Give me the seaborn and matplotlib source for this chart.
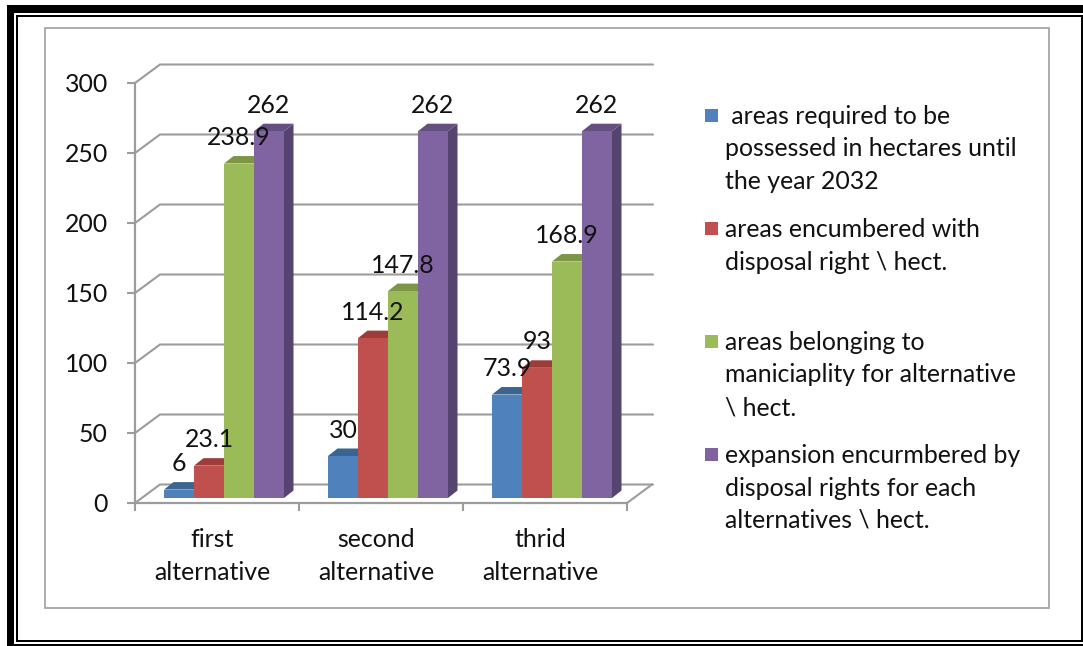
import matplotlib
matplotlib.use("Agg")
import matplotlib.pyplot as plt
import matplotlib.transforms as mtrans
from matplotlib.patches import Polygon, Rectangle
import pandas as pd
import seaborn as sns

# Chart values
categories = ["first\nalternative", "second\nalternative", "thrid\nalternative"]
series_names = [
    " areas required to be\npossessed in hectares until\nthe year 2032",
    "areas encumbered with\ndisposal right \\ hect.",
    "areas belonging to\nmaniciaplity for alternative\n\\ hect.",
    "expansion encurmbered by\ndisposal rights for each\nalternatives \\ hect.",
]
required = [6, 30, 73.9]
encumbered = [23.1, 114.2, 93]
municipality = [238.9, 147.8, 168.9]
expansion = [262, 262, 262]
y_ticks = [0, 50, 100, 150, 200, 250, 300]

front_colors = ["#4F81BD", "#C0504D", "#9BBB59", "#8064A2"]
top_colors = ["#3B6591", "#9C3D3A", "#7C9645", "#64507F"]
side_colors = ["#335A85", "#8A3432", "#6C833B", "#564470"]
grid_color = "#9C9C9C"
text_color = "#111111"

W, H = 1083, 646
sns.set_theme(style="white")
plt.rcParams["font.family"] = ["Lato", "DejaVu Sans"]
FONT = 17.9
SPACING = 1.5

fig = plt.figure(figsize=(W / 100, H / 100), dpi=100, facecolor="white")


def axes_box(left, right, top, bottom):
    """Axes rectangle from pixel edges, measured from the top-left corner."""
    return [left / W, 1 - bottom / H, (right - left) / W, (bottom - top) / H]


def page_rect(left, top, right, bottom, zorder=-5, **kw):
    fig.add_artist(Rectangle((left / W, 1 - bottom / H), (right - left) / W, (bottom - top) / H,
                             transform=fig.transFigure, zorder=zorder, **kw))


# Page borders and chart frame
page_rect(7, 5, 1090, 650, facecolor="black", edgecolor="none")
page_rect(14, 12.5, 1090, 643.5, facecolor="white", edgecolor="none")
page_rect(16, 15, 1082.5, 642, facecolor="black", edgecolor="none")
page_rect(18, 17, 1080.5, 640, facecolor="white", edgecolor="none")
page_rect(44.5, 27.5, 1049, 607.5, facecolor="white", edgecolor="#A6A6A6", linewidth=1.3)

# Axis frame: value axis, category axis and the receding grid
frame = fig.add_axes(axes_box(135, 627, 83, 503), facecolor="none")
frame.set_xlim(-0.5, 2.5)
frame.set_ylim(0, 300)
px_x = 3 / 492
px_y = 300 / 420
depth_x, depth_y = 25 * px_x, 18.5 * px_y
for v in y_ticks:
    frame.plot([-0.5, -0.5 + depth_x, 2.5 + depth_x + 1 * px_x],
               [v, v + depth_y, v + depth_y],
               color=grid_color, lw=1.5, clip_on=False, zorder=1, solid_joinstyle="miter")
frame.plot([2.5, 2.5 + depth_x], [0, depth_y], color=grid_color, lw=1.5, clip_on=False, zorder=1)

for name in ["top", "right"]:
    frame.spines[name].set_visible(False)
for name in ["left", "bottom"]:
    frame.spines[name].set_color(grid_color)
    frame.spines[name].set_linewidth(1.6)
frame.set_yticks(y_ticks)
frame.tick_params(axis="y", direction="out", length=6, width=1.5, color=grid_color,
                  labelsize=FONT, labelcolor=text_color, pad=13.5, left=True)
frame.set_xticks([-0.5, 0.5, 1.5, 2.5], labels=[])
frame.tick_params(axis="x", which="major", direction="out", length=6, width=1.5, color=grid_color, bottom=True)
frame.set_xticks([0, 1, 2], labels=categories, minor=True)
frame.tick_params(axis="x", which="minor", length=0, labelsize=FONT, labelcolor=text_color, pad=18)
nudge = mtrans.ScaledTranslation(-5 / 100, 0, fig.dpi_scale_trans)
for lab in frame.get_xticklabels(minor=True):
    lab.set_linespacing(SPACING)
    lab.set_transform(lab.get_transform() + nudge)

# Bars stand on the floor, a little behind the front edge
ax = fig.add_axes(axes_box(142, 634, 78, 498), facecolor="none")
table = pd.DataFrame({
    "alternative": categories * 4,
    "series": sum([[n] * 3 for n in series_names], []),
    "hectares": required + encumbered + municipality + expansion,
})
sns.barplot(data=table, x="alternative", y="hectares", hue="series", hue_order=series_names,
            palette=front_colors, saturation=1, width=120 / 164, gap=0, dodge=True,
            legend=False, ax=ax, zorder=3, linewidth=0, edgecolor="none")
ax.set_xlim(-0.5, 2.5)
ax.set_ylim(0, 300)
ax.axis("off")

bar_dx, bar_dy = 9.5 * px_x, 7.5 * px_y
for s, container in enumerate(ax.containers):
    for bar, value in zip(container.patches, container.datavalues):
        x0, x1, h = bar.get_x(), bar.get_x() + bar.get_width(), bar.get_height()
        ax.add_patch(Polygon([(x0, h), (x1, h), (x1 + bar_dx, h + bar_dy), (x0 + bar_dx, h + bar_dy)],
                             facecolor=top_colors[s], edgecolor="none", zorder=2.6 + s * 0.1, clip_on=False))
        if s == len(ax.containers) - 1:
            ax.add_patch(Polygon([(x1, 0), (x1 + bar_dx, bar_dy), (x1 + bar_dx, h + bar_dy), (x1, h)],
                                 facecolor=side_colors[s], edgecolor="none", zorder=2.5, clip_on=False))
        ax.annotate(f"{value:g}", (x0 + (x1 - x0) / 2, h), xytext=(0, 26), textcoords="offset pixels",
                    ha="center", va="center", fontsize=FONT, color=text_color,
                    zorder=10, annotation_clip=False)

# Legend keys and wrapped labels at even spacing
legend_rows = [115, 228, 341, 454]
for color, label, y in zip(front_colors, series_names, legend_rows):
    page_rect(705, y - 6.5, 718, y + 6.5, zorder=5, facecolor=color, edgecolor="none")
    fig.text(725 / W, 1 - (y - 10) / H, label, ha="left", va="top", fontsize=FONT,
             color=text_color, linespacing=SPACING, zorder=5)

fig.savefig("out.png", dpi=100, facecolor="white")
